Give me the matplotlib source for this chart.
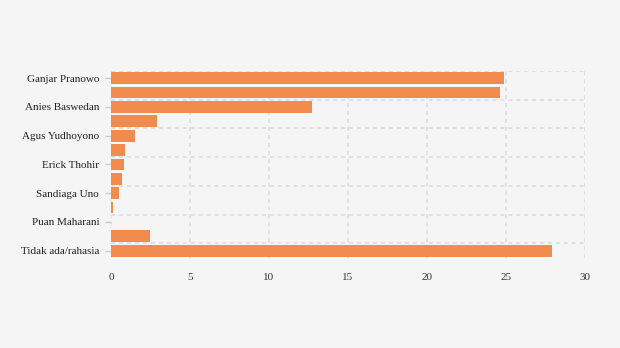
import matplotlib
matplotlib.use('Agg')
import matplotlib.pyplot as plt
import numpy as np

# 13 bars, only every other one carries a name
labels = ['Ganjar Pranowo', 'Anies Baswedan', 'Agus Yudhoyono', 'Erick Thohir',
          'Sandiaga Uno', 'Puan Maharani', 'Tidak ada/rahasia']
values = [24.9, 24.6, 12.7, 2.9, 1.5, 0.9, 0.8, 0.7, 0.5, 0.1, 0.0, 2.5, 27.9]
xticks = [0, 5, 10, 15, 20, 25, 30]

plt.rcParams['font.family'] = 'Liberation Serif'

bg = '#f5f5f5'
grid_color = '#dedede'
bar_color = '#f28b4e'

fig = plt.figure(figsize=(6.2, 3.48), dpi=100, facecolor=bg)
ax = fig.add_axes([0.179, 0.259, 0.7645, 0.537], facecolor=bg)

pos = np.arange(len(values))
ax.barh(pos, values, height=0.82, color=bar_color, zorder=3)

ax.set_xlim(0, 30)
ax.set_ylim(len(values) - 0.5, -0.5)

ax.set_xticks(xticks)
ax.set_xticklabels([str(t) for t in xticks])
ax.set_yticks(pos[::2])
ax.set_yticklabels(labels)
ax.set_yticks(np.arange(-0.5, len(values) - 1, 2), minor=True)

ax.tick_params(axis='x', length=0, pad=11, labelsize=8, labelcolor='#333333')
ax.tick_params(axis='y', which='major', length=4, width=1, color='#cccccc',
               pad=4.5, labelsize=8, labelcolor='#222222')
ax.tick_params(axis='y', which='minor', length=0)

dash = (0, (2.2, 2.2))
ax.grid(axis='x', which='major', color=grid_color, linestyle=dash, linewidth=1.3, zorder=0)
ax.grid(axis='y', which='minor', color=grid_color, linestyle=dash, linewidth=1.3, zorder=0)
ax.grid(axis='y', which='major', visible=False)

for s in ax.spines.values():
    s.set_visible(False)

fig.savefig('out.png', dpi=100, facecolor=bg)
